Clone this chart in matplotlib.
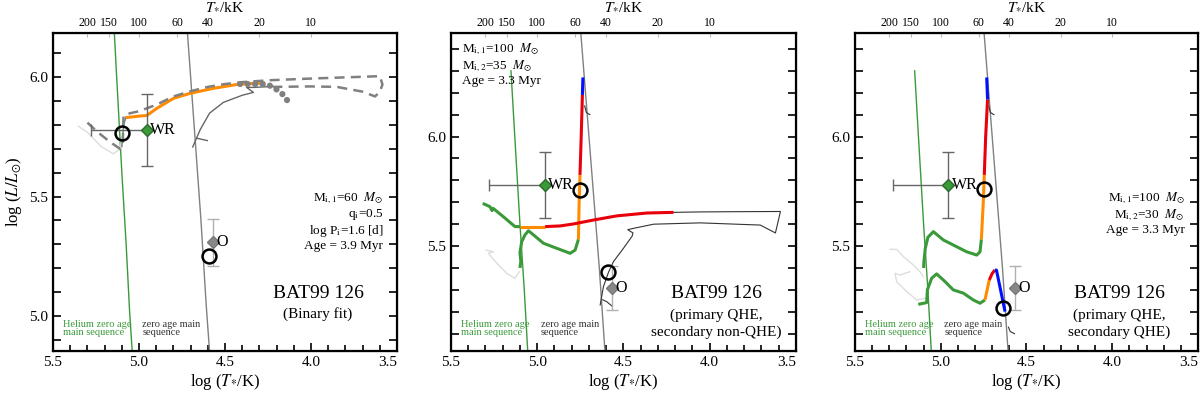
import numpy as np
import matplotlib
matplotlib.use('Agg')
import matplotlib.pyplot as plt
from matplotlib.ticker import MultipleLocator, FixedLocator, FuncFormatter

plt.rcParams['font.family'] = ['Liberation Serif', 'DejaVu Serif']
plt.rcParams['mathtext.fontset'] = 'stix'

# ---------------- data ----------------
# zero age main sequences (same in all panels)
zams_T = [4.75, 4.72, 4.68, 4.64, 4.61, 4.585]
zams_L = [6.50, 6.20, 5.80, 5.40, 5.05, 4.80]
he_zams_T = [5.152, 5.13, 5.10, 5.075, 5.055, 5.035]
he_zams_L = [6.30, 6.00, 5.60, 5.30, 5.02, 4.80]

# observed components
wr_T, wr_L = 4.955, 5.78
wr_Terr_hot, wr_Lerr = 0.325, 0.15
o_T, o_L = 4.568, 5.308
o_Lerr = 0.10
kK_ticks = [200, 150, 100, 60, 40, 20, 10]
x_ticks = [5.5, 5.0, 4.5, 4.0, 3.5]

# panel 1: binary fit
p1_orange_T = [5.068, 4.994, 4.955, 4.897, 4.80, 4.703, 4.568, 4.432, 4.35, 4.28]
p1_orange_L = [5.832, 5.838, 5.840, 5.870, 5.912, 5.933, 5.954, 5.970, 5.974, 5.976]
p1_dash_T = [5.30, 5.24, 5.17, 5.11, 5.095, 5.09, 5.05, 5.00, 4.90, 4.80, 4.70, 4.60,
             4.50, 4.40, 4.24, 4.00, 3.80, 3.60, 3.585, 3.60, 3.628, 3.70, 3.85, 4.00, 4.22]
p1_dash_L = [5.81, 5.77, 5.73, 5.70, 5.72, 5.84, 5.85, 5.858, 5.885, 5.92, 5.942, 5.96,
             5.972, 5.98, 5.988, 5.995, 6.00, 6.005, 5.97, 5.94, 5.92, 5.94, 5.96, 5.962, 5.96]
p1_dots_T = [4.413, 4.335, 4.258, 4.21, 4.17, 4.142, 4.118]
p1_dots_L = [5.972, 5.972, 5.972, 5.954, 5.933, 5.907, 5.883]
p1_thin_T = [4.22, 4.33, 4.375, 4.335, 4.40, 4.51, 4.59, 4.645, 4.688]
p1_thin_L = [5.962, 5.958, 5.958, 5.937, 5.925, 5.895, 5.85, 5.78, 5.708]
p1_hook_T = [4.665, 4.603]
p1_hook_L = [5.745, 5.735]
p1_stub_T = [5.075, 5.09, 5.10]
p1_stub_L = [5.835, 5.80, 5.71]
p1_light_T = [5.353, 5.30, 5.22, 5.15, 5.11, 5.10]
p1_light_L = [5.795, 5.77, 5.71, 5.68, 5.70, 5.75]
p1_circ_T = [5.099, 4.595]
p1_circ_L = [5.765, 5.252]

# panel 2: primary QHE, secondary non-QHE
p2_pg_T = [5.10, 5.095, 5.10, 5.09, 5.071, 5.051, 5.032, 4.964, 4.887, 4.809, 4.78, 4.761]
p2_pg_L = [5.40, 5.43, 5.47, 5.52, 5.551, 5.570, 5.558, 5.513, 5.49, 5.467, 5.482, 5.531]
p2_po_T = [4.761, 4.757, 4.752]
p2_po_L = [5.531, 5.70, 5.825]
p2_pr_T = [4.752, 4.745, 4.738]
p2_pr_L = [5.825, 6.00, 6.19]
p2_pb_T = [4.738, 4.735]
p2_pb_L = [6.19, 6.27]
p2_sg_T = [5.316, 5.274, 5.262, 5.255, 5.196, 5.129, 5.10]
p2_sg_L = [5.695, 5.68, 5.662, 5.672, 5.634, 5.589, 5.589]
p2_so_T = [5.10, 4.954]
p2_so_L = [5.589, 5.589]
p2_sr_T = [4.954, 4.867, 4.79, 4.674, 4.538, 4.364, 4.21]
p2_sr_L = [5.589, 5.592, 5.601, 5.619, 5.638, 5.651, 5.654]
p2_thin_T = [4.21, 4.055, 3.862, 3.59, 3.619, 3.707, 4.055, 4.325, 4.442, 4.475, 4.445,
             4.45, 4.50, 4.558, 4.587, 4.616, 4.635]
p2_thin_L = [5.654, 5.656, 5.657, 5.658, 5.56, 5.596, 5.606, 5.60, 5.581, 5.575, 5.56,
             5.545, 5.49, 5.429, 5.38, 5.315, 5.231]
p2_hook1_T = [4.725, 4.715, 4.695]
p2_hook1_L = [6.14, 6.11, 6.10]
p2_hook2_T = [4.62, 4.595, 4.565]
p2_hook2_L = [5.255, 5.245, 5.225]
p2_light_T = [5.297, 5.254, 5.283, 5.235, 5.177, 5.129, 5.104]
p2_light_L = [5.482, 5.474, 5.467, 5.422, 5.376, 5.353, 5.383]
p2_circ_T = [4.751, 4.587]
p2_circ_L = [5.756, 5.38]

# panel 3: primary QHE, secondary QHE
p3_pg_T = [5.10, 5.098, 5.09, 5.075, 5.043, 4.985, 4.927, 4.849, 4.79, 4.771, 4.763]
p3_pg_L = [5.40, 5.43, 5.49, 5.54, 5.566, 5.528, 5.505, 5.474, 5.459, 5.474, 5.531]
p3_po_T = [4.763, 4.752, 4.746]
p3_po_L = [5.531, 5.70, 5.825]
p3_pr_T = [4.746, 4.738, 4.727]
p3_pr_L = [5.825, 6.00, 6.17]
p3_pb_T = [4.727, 4.732]
p3_pb_L = [6.17, 6.27]
p3_sg_T = [5.131, 5.082, 5.078, 5.053, 5.024, 4.975, 4.927, 4.868, 4.81, 4.771, 4.742]
p3_sg_L = [5.234, 5.242, 5.30, 5.353, 5.373, 5.338, 5.30, 5.285, 5.254, 5.239, 5.254]
p3_so_T = [4.742, 4.717]
p3_so_L = [5.254, 5.345]
p3_sr_T = [4.717, 4.70, 4.684]
p3_sr_L = [5.345, 5.375, 5.391]
p3_sb_T = [4.684, 4.675, 4.625]
p3_sb_L = [5.391, 5.39, 5.201]
p3_hook1_T = [4.72, 4.71, 4.69]
p3_hook1_L = [6.14, 6.11, 6.10]
p3_hook2_T = [4.605, 4.595, 4.57]
p3_hook2_L = [5.13, 5.11, 5.10]
p3_lightA_T = [5.296, 5.257, 5.218, 5.16, 5.121, 5.102]
p3_lightA_L = [5.485, 5.485, 5.452, 5.414, 5.383, 5.36]
p3_lightB_T = [5.18, 5.238, 5.267, 5.257, 5.198, 5.14, 5.092]
p3_lightB_L = [5.383, 5.368, 5.376, 5.337, 5.292, 5.254, 5.262]
p3_circ_T = [4.746, 4.635]
p3_circ_L = [5.759, 5.219]

# colours
GREEN = '#3a9a3a'
ORANGE = '#ff8c00'
RED = '#e8000b'
BLUE = '#0010ff'
GREY = '#808080'


def base_axes(rect, ylim, ylabel=False):
    ax = fig.add_axes(rect)
    ax.set_xlim(5.5, 3.5)
    ax.set_ylim(*ylim)
    ax.set_xticks(x_ticks)
    ax.set_xticklabels(['%.1f' % v for v in x_ticks])
    ax.get_xticklabels()[-1].set_ha('right')   # last label sits inside the frame
    ax.xaxis.set_minor_locator(MultipleLocator(0.1))
    ax.yaxis.set_major_locator(MultipleLocator(0.5))
    ax.yaxis.set_minor_locator(MultipleLocator(0.1))
    ax.yaxis.set_major_formatter(FuncFormatter(lambda v, p: '%.1f' % v))
    ax.tick_params(which='both', direction='in', right=True, top=False,
                   width=1.2, labelsize=11)
    ax.tick_params(which='major', length=6)
    ax.tick_params(axis='x', which='minor', length=4)
    ax.tick_params(axis='y', which='minor', length=6)
    for s in ax.spines.values():
        s.set_linewidth(1.6)
    ax.set_xlabel(r'log ($T_{*}$/K)', fontsize=12, labelpad=2)
    if ylabel:
        ax.set_ylabel(r'log ($L/L_{\odot}$)', fontsize=12, labelpad=4)

    top = ax.twiny()
    top.set_xlim(5.5, 3.5)
    top.xaxis.set_major_locator(FixedLocator(np.log10(np.array(kK_ticks) * 1e3)))
    top.set_xticklabels([str(k) for k in kK_ticks])
    top.tick_params(direction='in', length=3, color='#bbbbbb', labelsize=8.5, pad=3)
    top.set_xlabel(r'$T_{*}$/kK', fontsize=11, labelpad=5)

    # ZAMS lines and their labels
    ax.plot(zams_T, zams_L, color=GREY, lw=1.0, zorder=2)
    ax.plot(he_zams_T, he_zams_L, color=GREEN, lw=1.0, zorder=2)
    ax.text(0.028, 0.07, 'Helium zero age\nmain sequence', transform=ax.transAxes,
            color=GREEN, fontsize=7.5, va='center', linespacing=0.8)
    ax.text(0.26, 0.07, 'zero age main\nsequence', transform=ax.transAxes,
            color='#333333', fontsize=7.5, va='center', linespacing=0.8)

    # observed stars (x axis is reversed: hotter = larger log T = to the left)
    ax.errorbar([wr_T], [wr_L], xerr=[[0], [wr_Terr_hot]], yerr=[[wr_Lerr], [wr_Lerr]],
                fmt='none', ecolor='#666666', elinewidth=1, capsize=4, zorder=5)
    ax.plot(wr_T, wr_L, 'D', color=GREEN, mec='#2a6a2a', ms=6.5, zorder=6)
    ax.text(wr_T - 0.02, wr_L, 'WR', fontsize=11.5, va='center', ha='left', zorder=7)
    ax.errorbar([o_T], [o_L], yerr=[[o_Lerr], [o_Lerr]], fmt='none',
                ecolor='#b0b0b0', elinewidth=1, capsize=4, zorder=5)
    ax.plot(o_T, o_L, 'D', color='#888888', mec='#777777', ms=6.5, zorder=6)
    ax.text(o_T - 0.02, o_L, 'O', fontsize=11.5, va='center', ha='left', zorder=7)
    return ax


def circles(ax, T, L):
    ax.plot(T, L, 'o', ms=10, mfc='none', mec='black', mew=1.8, zorder=8)


def mass_text(ax, x, y, lines, ha):
    ax.text(x, y, '\n'.join(lines), transform=ax.transAxes, ha=ha, va='top',
            fontsize=9.5, linespacing=1.12)


def name_text(ax, sub):
    ax.text(0.77, 0.18, 'BAT99 126', transform=ax.transAxes, ha='center', va='center', fontsize=14)
    ax.text(0.77, 0.115 if '\n' not in sub else 0.086, sub, transform=ax.transAxes,
            ha='center', va='center', fontsize=11, linespacing=1.3)


fig = plt.figure(figsize=(12, 3.95), dpi=100)

# ---------------- panel 1 ----------------
ax1 = base_axes([0.0442, 0.1114, 0.2867, 0.8051], (4.853, 6.186), ylabel=True)
ax1.plot(p1_light_T, p1_light_L, color='#dddddd', lw=1)
ax1.plot(p1_stub_T, p1_stub_L, color='#777777', lw=1)
ax1.plot(p1_thin_T, p1_thin_L, color='#666666', lw=1)
ax1.plot(p1_hook_T, p1_hook_L, color='#666666', lw=1)
ax1.plot(p1_orange_T, p1_orange_L, color=ORANGE, lw=2.2, zorder=3)
ax1.plot(p1_dash_T, p1_dash_L, color=GREY, lw=1.8, dashes=(4, 2.5), zorder=4)
ax1.plot(p1_dots_T, p1_dots_L, color=GREY, lw=4.5, linestyle=(0, (0.01, 1.2)),
         dash_capstyle='round', zorder=4)
circles(ax1, p1_circ_T, p1_circ_L)
mass_text(ax1, 0.96, 0.507, [r'M$_{\rm i,1}$=60  $M_{\odot}$', r'q$_{\rm i}$=0.5',
                             r'log P$_{\rm i}$=1.6 [d]', 'Age = 3.9 Myr'], 'right')
name_text(ax1, '(Binary fit)')

# ---------------- panel 2 ----------------
ax2 = base_axes([0.3758, 0.1114, 0.2875, 0.8051], (5.021, 6.473))
ax2.plot(p2_light_T, p2_light_L, color='#dddddd', lw=1)
ax2.plot(p2_thin_T, p2_thin_L, color='#333333', lw=0.8)
ax2.plot(p2_hook1_T, p2_hook1_L, color='#333333', lw=0.8)
ax2.plot(p2_hook2_T, p2_hook2_L, color='#333333', lw=0.8)
for T, L, c in [(p2_pg_T, p2_pg_L, GREEN), (p2_po_T, p2_po_L, ORANGE),
                (p2_pr_T, p2_pr_L, RED), (p2_pb_T, p2_pb_L, BLUE),
                (p2_sg_T, p2_sg_L, GREEN), (p2_so_T, p2_so_L, ORANGE),
                (p2_sr_T, p2_sr_L, RED)]:
    ax2.plot(T, L, color=c, lw=2.2, zorder=3, solid_capstyle='butt')
circles(ax2, p2_circ_T, p2_circ_L)
mass_text(ax2, 0.032, 0.975, [r'M$_{\rm i,1}$=100  $M_{\odot}$', r'M$_{\rm i,2}$=35  $M_{\odot}$',
                              'Age = 3.3 Myr'], 'left')
name_text(ax2, '(primary QHE,\nsecondary non-QHE)')

# ---------------- panel 3 ----------------
ax3 = base_axes([0.7125, 0.1114, 0.2858, 0.8051], (5.021, 6.473))
ax3.plot(p3_lightA_T, p3_lightA_L, color='#dddddd', lw=1)
ax3.plot(p3_lightB_T, p3_lightB_L, color='#dddddd', lw=1)
ax3.plot(p3_hook1_T, p3_hook1_L, color='#333333', lw=0.8)
ax3.plot(p3_hook2_T, p3_hook2_L, color='#333333', lw=0.8)
for T, L, c in [(p3_pg_T, p3_pg_L, GREEN), (p3_po_T, p3_po_L, ORANGE),
                (p3_pr_T, p3_pr_L, RED), (p3_pb_T, p3_pb_L, BLUE),
                (p3_sg_T, p3_sg_L, GREEN), (p3_so_T, p3_so_L, ORANGE),
                (p3_sr_T, p3_sr_L, RED), (p3_sb_T, p3_sb_L, BLUE)]:
    ax3.plot(T, L, color=c, lw=2.2, zorder=3, solid_capstyle='butt')
circles(ax3, p3_circ_T, p3_circ_L)
mass_text(ax3, 0.962, 0.507, [r'M$_{\rm i,1}$=100  $M_{\odot}$', r'M$_{\rm i,2}$=30  $M_{\odot}$',
                              'Age = 3.3 Myr'], 'right')
name_text(ax3, '(primary QHE,\nsecondary QHE)')

fig.savefig('out.png', dpi=100)
